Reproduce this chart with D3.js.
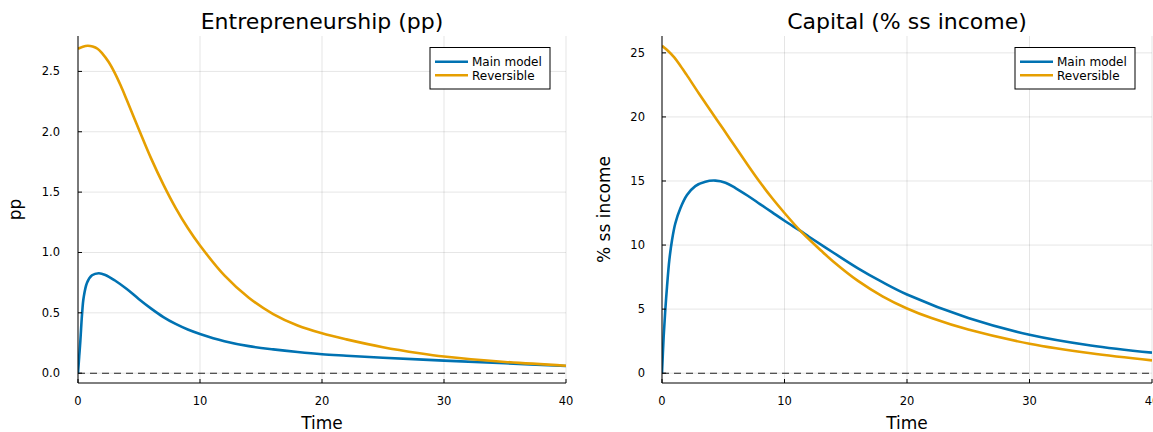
<!DOCTYPE html>
<html>
<head>
<meta charset="utf-8">
<script src="https://cdn.jsdelivr.net/npm/d3@7"></script>
<style>
  body { margin: 0; background: #fff; }
  svg { display: block; font-family: "DejaVu Sans", sans-serif; }
</style>
</head>
<body>
<svg id="chart" width="1153" height="432"></svg>
<script>
// ---- data ----
const seriesNames = ['Main model', 'Reversible'];
const seriesColors = ['#0072B2', '#E69F00'];

// entrepreneurship panel, pp
const entMainT = [0, 0.1, 0.19, 0.33, 0.46, 0.74, 1.15, 1.7, 2.24, 3, 4, 5, 6, 7, 8, 9, 10, 12, 14, 16, 18, 20, 22, 25, 30, 35, 40];
const entMain  = [0, 0.14, 0.264, 0.486, 0.625, 0.75, 0.811, 0.828, 0.814, 0.77, 0.697, 0.613, 0.535, 0.465, 0.408, 0.362, 0.325, 0.265, 0.224, 0.197, 0.175, 0.157, 0.145, 0.128, 0.104, 0.082, 0.06];
const entRevT  = [0, 0.4, 0.8, 1.2, 1.6, 2, 2.5, 3, 3.5, 4, 5, 6, 7, 8, 9, 10, 12, 14, 16, 18, 20, 22, 25, 28, 30, 35, 40];
const entRev   = [2.688, 2.705, 2.712, 2.706, 2.688, 2.6475, 2.58, 2.49, 2.3825, 2.2625, 2.0175, 1.7775, 1.5625, 1.37, 1.2025, 1.0575, 0.81, 0.625, 0.49, 0.395, 0.33, 0.28, 0.215, 0.165, 0.138, 0.093, 0.062];
const entYTicks = [0, 0.5, 1.0, 1.5, 2.0, 2.5];

// capital panel, % ss income
const capMainT = [0, 0.136, 0.27, 0.41, 0.6, 0.82, 1.09, 1.5, 2.04, 2.72, 3.54, 4.36, 5.18, 6, 7, 8, 9, 10, 11.3, 12, 14, 16, 18, 20, 25, 30, 35, 40];
const capMain  = [0, 2.86, 4.94, 6.76, 8.84, 10.4, 11.7, 12.87, 13.9, 14.6, 14.95, 15.03, 14.87, 14.45, 13.85, 13.2, 12.55, 11.9, 11.1, 10.65, 9.4, 8.18, 7.1, 6.14, 4.3, 3.0, 2.16, 1.6];
const capRevT  = [0, 0.5, 1, 1.5, 2, 3, 4, 5, 6, 7, 8, 9, 10, 11.3, 12, 13, 14, 16, 18, 20, 22, 25, 30, 35, 40];
const capRev   = [25.55, 25.15, 24.65, 24.0, 23.3, 21.85, 20.45, 19.05, 17.65, 16.25, 14.9, 13.65, 12.5, 11.1, 10.45, 9.55, 8.7, 7.2, 6.0, 5.05, 4.3, 3.4, 2.3, 1.55, 1.0];
const capYTicks = [0, 5, 10, 15, 20, 25];

const xTicks = [0, 10, 20, 30, 40];

const panels = [
  { title: 'Entrepreneurship (pp)', ylabel: 'pp', ts: [entMainT, entRevT], series: [entMain, entRev], yTicks: entYTicks,
    fmt: d3.format('.1f'), left: 78, right: 566, legendX: 430, ylabelX: 20.5, tickGap: 18 },
  { title: 'Capital (% ss income)', ylabel: '% ss income', ts: [capMainT, capRevT], series: [capMain, capRev], yTicks: capYTicks,
    fmt: d3.format('d'), left: 662, right: 1152, legendX: 1015, ylabelX: 610, tickGap: 17 }
];

const svg = d3.select('#chart');
const plotTop = 36, plotBottom = 383;

panels.forEach(p => {
  const all = p.series.flat();
  const lo = d3.min(all), hi = d3.max(all), pad = (hi - lo) * 0.03;
  const x = d3.scaleLinear().domain([0, 40]).range([p.left, p.right]);
  const y = d3.scaleLinear().domain([lo - pad, hi + pad]).range([plotBottom, plotTop]);
  const g = svg.append('g');

  // grid
  xTicks.forEach(tv => g.append('line').attr('x1', x(tv)).attr('x2', x(tv)).attr('y1', plotTop).attr('y2', plotBottom)
    .attr('stroke', 'rgba(0,0,0,.1)').attr('stroke-width', 1));
  p.yTicks.forEach(tv => g.append('line').attr('x1', p.left).attr('x2', p.right).attr('y1', y(tv)).attr('y2', y(tv))
    .attr('stroke', 'rgba(0,0,0,.1)').attr('stroke-width', 1));

  // zero line
  g.append('line').attr('x1', p.left).attr('x2', p.right).attr('y1', y(0)).attr('y2', y(0))
    .attr('stroke', '#222').attr('stroke-width', 1.1).attr('stroke-dasharray', '7,5');

  // series
  const clipId = 'clip' + p.left;
  svg.append('clipPath').attr('id', clipId).append('rect')
    .attr('x', p.left).attr('y', plotTop - 5).attr('width', p.right - p.left).attr('height', plotBottom - plotTop + 5);
  p.series.forEach((s, i) => {
    const tt = p.ts[i];
    const line = d3.line().x((d, j) => x(tt[j])).y(d => y(d)).curve(d3.curveCatmullRom.alpha(0.5));
    g.append('path').datum(s).attr('d', line).attr('fill', 'none')
      .attr('stroke', seriesColors[i]).attr('stroke-width', 2.6).attr('clip-path', `url(#${clipId})`);
  });

  // axis lines
  g.append('line').attr('x1', p.left).attr('x2', p.left).attr('y1', plotTop).attr('y2', plotBottom).attr('stroke', '#000');
  g.append('line').attr('x1', p.left).attr('x2', p.right).attr('y1', plotBottom).attr('y2', plotBottom).attr('stroke', '#000');

  // ticks + labels
  xTicks.forEach(tv => {
    g.append('line').attr('x1', x(tv)).attr('x2', x(tv)).attr('y1', plotBottom).attr('y2', plotBottom - 4).attr('stroke', '#000');
    g.append('text').attr('x', x(tv)).attr('y', 405).attr('text-anchor', 'middle')
      .attr('font-size', 11.5).attr('fill', '#000').text(tv);
  });
  p.yTicks.forEach(tv => {
    g.append('line').attr('x1', p.left).attr('x2', p.left + 4).attr('y1', y(tv)).attr('y2', y(tv)).attr('stroke', '#000');
    g.append('text').attr('x', p.left - p.tickGap).attr('y', y(tv) + 4).attr('text-anchor', 'end')
      .attr('font-size', 11.5).attr('fill', '#000').text(p.fmt(tv));
  });

  // title and labels
  g.append('text').attr('x', (p.left + p.right) / 2).attr('y', 29).attr('text-anchor', 'middle')
    .attr('font-size', 22).attr('fill', '#000').text(p.title);
  g.append('text').attr('x', (p.left + p.right) / 2).attr('y', 429).attr('text-anchor', 'middle')
    .attr('font-size', 17).attr('fill', '#000').text('Time');
  g.append('text').attr('transform', `translate(${p.ylabelX},${(plotTop + plotBottom) / 2}) rotate(-90)`)
    .attr('text-anchor', 'middle').attr('font-size', 17).attr('fill', '#000').text(p.ylabel);

  // legend
  const lg = g.append('g').attr('transform', `translate(${p.legendX},47.5)`);
  lg.append('rect').attr('width', 120).attr('height', 41.5).attr('fill', '#fff').attr('stroke', '#000').attr('stroke-width', 1);
  seriesNames.forEach((n, i) => {
    const yy = 14.2 + i * 13.5;
    lg.append('line').attr('x1', 5).attr('x2', 38).attr('y1', yy).attr('y2', yy)
      .attr('stroke', seriesColors[i]).attr('stroke-width', 2.6);
    lg.append('text').attr('x', 42).attr('y', yy + 4.3).attr('font-size', 12).attr('fill', '#000').text(n);
  });
});
</script>
</body>
</html>
